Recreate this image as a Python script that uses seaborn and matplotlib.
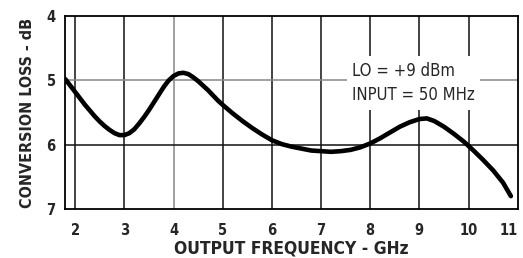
import pandas as pd
import matplotlib
matplotlib.use("Agg")
import matplotlib.pyplot as plt
from matplotlib import font_manager
import seaborn as sns

# Curve (GHz, dB)
freq_ghz = [1.8, 1.9, 2.0, 2.1, 2.2, 2.3, 2.4, 2.5, 2.6, 2.7, 2.8, 2.9, 3.0,
            3.1, 3.2, 3.3, 3.4, 3.5, 3.6, 3.7, 3.8, 3.9, 4.0, 4.1, 4.2, 4.3,
            4.4, 4.5, 4.6, 4.7, 4.8, 4.9, 5.0, 5.2, 5.4, 5.6, 5.8, 6.0, 6.2,
            6.4, 6.6, 6.8, 7.0, 7.2, 7.4, 7.6, 7.8, 8.0, 8.2, 8.4, 8.6, 8.8,
            9.0, 9.15, 9.3, 9.5, 9.7, 9.9, 10.0, 10.1, 10.3, 10.5, 10.7, 10.86]
loss_db = [4.98, 5.08, 5.18, 5.28, 5.38, 5.47, 5.56, 5.64, 5.71, 5.77, 5.82, 5.85, 5.85,
           5.82, 5.76, 5.67, 5.57, 5.46, 5.34, 5.22, 5.10, 5.00, 4.93, 4.89, 4.88, 4.90,
           4.95, 5.01, 5.08, 5.15, 5.23, 5.31, 5.38, 5.51, 5.63, 5.74, 5.84, 5.93, 5.99,
           6.03, 6.06, 6.09, 6.10, 6.11, 6.10, 6.08, 6.04, 5.98, 5.90, 5.81, 5.72, 5.65,
           5.60, 5.59, 5.63, 5.72, 5.83, 5.95, 6.02, 6.09, 6.24, 6.40, 6.59, 6.80]

x_ticks = [2, 3, 4, 5, 6, 7, 8, 9, 10, 11]
y_ticks = [4, 5, 6, 7]
note_lines = ["LO = +9 dBm", "INPUT = 50 MHz"]

df = pd.DataFrame({"freq": freq_ghz, "loss": loss_db})

sns.set_style("white")
names = {f.name for f in font_manager.fontManager.ttflist}
if "Liberation Sans Narrow" in names:
    plt.rcParams["font.family"] = ["Liberation Sans Narrow", "DejaVu Sans"]
else:
    plt.rcParams["font.family"] = ["DejaVu Sans"]
    plt.rcParams["font.stretch"] = "condensed"

fig, ax = plt.subplots(figsize=(5.23, 2.58), dpi=100)
fig.subplots_adjust(left=0.125, right=0.99, top=0.937, bottom=0.19)

# grid lines (x=4 and y=5 are lighter in the original)
for xv in x_ticks[:-1]:
    ax.axvline(xv, color="#888888" if xv == 4 else "#111111", lw=1.1, zorder=1)
for yv in [5, 6]:
    ax.axhline(yv, color="#888888" if yv == 5 else "#111111", lw=1.1, zorder=1)

sns.lineplot(data=df, x="freq", y="loss", color="black", lw=3.3, ax=ax, zorder=3,
             solid_joinstyle="round", solid_capstyle="round")

ax.set_xlim(1.8, 11.0)
ax.set_ylim(7, 4)
ax.set_xticks(x_ticks)
ax.set_yticks(y_ticks)
ax.tick_params(axis="x", length=0, labelsize=10.5, pad=10)
ax.tick_params(axis="y", length=0, labelsize=10.5, pad=7)
for lbl in ax.get_xticklabels() + ax.get_yticklabels():
    lbl.set_fontweight("bold")
ax.get_xticklabels()[-1].set_horizontalalignment("right")

for s in ax.spines.values():
    s.set_color("black")
    s.set_linewidth(1.3)

ax.text(8.88, 5.04, note_lines[0] + "\n" + note_lines[1], fontsize=12,
        ha="center", va="center", multialignment="left", linespacing=1.45,
        zorder=2, bbox=dict(facecolor="white", edgecolor="none", pad=4))

ax.set_xlabel("OUTPUT FREQUENCY - GHz", fontsize=12.5, labelpad=1, fontweight="bold")
ax.set_ylabel("CONVERSION LOSS - dB", fontsize=11.5, labelpad=8, fontweight="bold")

fig.savefig("out.png", dpi=100)
